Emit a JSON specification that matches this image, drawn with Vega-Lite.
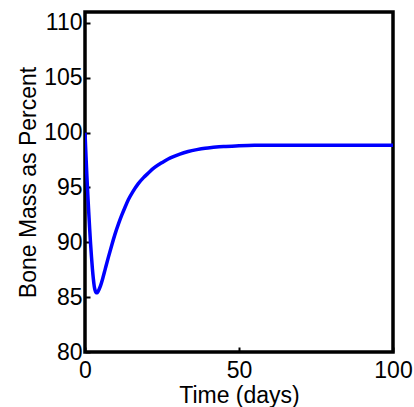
{
  "$schema": "https://vega.github.io/schema/vega-lite/v6.json",
  "width": 308,
  "height": 340,
  "autosize": {"type": "none"},
  "padding": {"left": 85, "top": 12, "right": 21, "bottom": 55},
  "background": "white",
  "view": {"stroke": "black", "strokeWidth": 3.5},
  "config": {
    "font": "Liberation Sans",
    "axis": {
      "grid": false,
      "domain": false,
      "labelFont": "Liberation Sans",
      "labelFontSize": 23,
      "labelColor": "black",
      "titleFont": "Liberation Sans",
      "titleFontSize": 23,
      "titleFontWeight": "normal",
      "titleColor": "black",
      "tickColor": "black",
      "tickSize": -5,
      "tickWidth": 2
    }
  },
  "data": {
    "values": [
      {"t": 0, "v": 100},
      {"t": 0.3, "v": 98.0},
      {"t": 0.6, "v": 96.1},
      {"t": 0.9, "v": 94.4},
      {"t": 1.2, "v": 92.8},
      {"t": 1.5, "v": 91.3},
      {"t": 1.8, "v": 89.9},
      {"t": 2.1, "v": 88.7},
      {"t": 2.4, "v": 87.6},
      {"t": 2.7, "v": 86.7},
      {"t": 3.0, "v": 86.0},
      {"t": 3.3, "v": 85.6},
      {"t": 3.6, "v": 85.4},
      {"t": 3.9, "v": 85.4},
      {"t": 4.2, "v": 85.5},
      {"t": 5.0, "v": 86.0},
      {"t": 5.8, "v": 86.75},
      {"t": 6.6, "v": 87.6},
      {"t": 7.6, "v": 88.65},
      {"t": 8.8, "v": 89.85},
      {"t": 9.7, "v": 90.7},
      {"t": 10.9, "v": 91.7},
      {"t": 11.9, "v": 92.45},
      {"t": 13.0, "v": 93.2},
      {"t": 14.1, "v": 93.9},
      {"t": 15.5, "v": 94.6},
      {"t": 17.3, "v": 95.35},
      {"t": 19.0, "v": 95.9},
      {"t": 20.5, "v": 96.3},
      {"t": 22.5, "v": 96.8},
      {"t": 24.9, "v": 97.25},
      {"t": 27.0, "v": 97.6},
      {"t": 28.7, "v": 97.82},
      {"t": 30.8, "v": 98.05},
      {"t": 33.5, "v": 98.28},
      {"t": 36.3, "v": 98.45},
      {"t": 39, "v": 98.58},
      {"t": 41.7, "v": 98.66},
      {"t": 45, "v": 98.74},
      {"t": 50, "v": 98.8},
      {"t": 55, "v": 98.84},
      {"t": 60, "v": 98.85},
      {"t": 70, "v": 98.85},
      {"t": 80, "v": 98.85},
      {"t": 90, "v": 98.85},
      {"t": 100, "v": 98.85}
    ]
  },
  "mark": {"type": "line", "color": "#0000ff", "strokeWidth": 3.5, "interpolate": "monotone", "clip": true},
  "encoding": {
    "x": {
      "field": "t",
      "type": "quantitative",
      "scale": {"domain": [0, 100], "nice": false},
      "axis": {"title": "Time (days)", "values": [0, 50, 100], "labelPadding": 12, "titlePadding": 2, "labelFlush": false}
    },
    "y": {
      "field": "v",
      "type": "quantitative",
      "scale": {"domain": [80, 111], "nice": false, "zero": false},
      "axis": {"title": "Bone Mass as Percent", "values": [80, 85, 90, 95, 100, 105, 110], "labelPadding": 8, "titlePadding": 3, "labelFlush": false}
    }
  }
}
